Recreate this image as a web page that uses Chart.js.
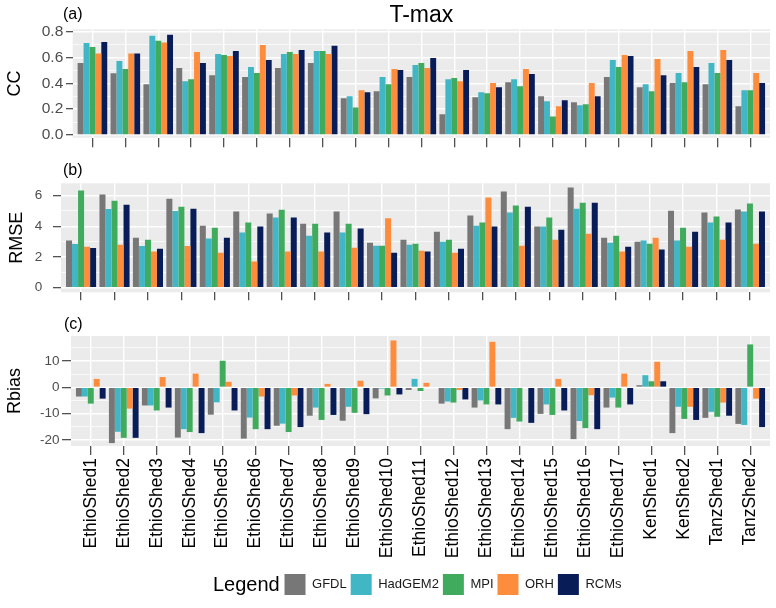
<!DOCTYPE html>
<html><head><meta charset="utf-8">
<script src="https://cdn.jsdelivr.net/npm/chart.js@4.4.1/dist/chart.umd.min.js"></script>
<style>
html,body{margin:0;padding:0;background:#fff;}
#wrap{position:relative;width:776px;height:608px;overflow:hidden;}
#wrap canvas{position:absolute;left:0;top:0;}
</style></head><body>
<div id="wrap">
<canvas id="cA" width="776" height="608"></canvas>
<canvas id="cB" width="776" height="608"></canvas>
<canvas id="cC" width="776" height="608"></canvas>
</div>
<script>
// ---------- DATA ----------
const categories = ['EthioShed1','EthioShed2','EthioShed3','EthioShed4','EthioShed5','EthioShed6','EthioShed7','EthioShed8','EthioShed9','EthioShed10','EthioShed11','EthioShed12','EthioShed13','EthioShed14','EthioShed15','EthioShed16','EthioShed17','KenShed1','KenShed2','TanzShed1','TanzShed2'];
const seriesNames = ['GFDL','HadGEM2','MPI','ORH','RCMs'];

const ccGFDL = [0.56,0.48,0.395,0.52,0.465,0.45,0.52,0.56,0.285,0.34,0.45,0.16,0.293,0.41,0.30,0.254,0.45,0.371,0.403,0.395,0.222];
const ccHadGEM2 = [0.716,0.575,0.771,0.418,0.63,0.528,0.63,0.654,0.30,0.45,0.544,0.434,0.332,0.434,0.261,0.23,0.583,0.395,0.481,0.56,0.348];
const ccMPI = [0.685,0.512,0.732,0.434,0.622,0.481,0.646,0.654,0.214,0.395,0.56,0.442,0.324,0.379,0.144,0.238,0.528,0.34,0.41,0.481,0.348];
const ccORH = [0.633,0.633,0.719,0.646,0.614,0.70,0.63,0.63,0.348,0.512,0.52,0.418,0.403,0.512,0.222,0.403,0.622,0.591,0.654,0.661,0.481];
const ccRCMs = [0.724,0.633,0.779,0.56,0.654,0.583,0.661,0.693,0.332,0.505,0.599,0.505,0.371,0.473,0.269,0.30,0.614,0.465,0.528,0.583,0.403];

const rmseGFDL = [3.07,6.07,3.26,5.80,4.04,4.96,4.83,4.17,4.96,2.93,3.13,3.65,4.70,6.26,3.98,6.52,3.26,3.0,5.02,4.89,5.09];
const rmseHadGEM2 = [2.85,5.13,2.72,5.0,3.2,3.59,4.57,3.39,3.59,2.74,2.80,3.0,4.04,4.89,3.98,5.15,2.93,3.07,3.07,4.24,4.96];
const rmseMPI = [6.33,5.67,3.13,5.28,3.91,4.24,5.07,4.17,4.17,2.74,2.87,3.13,4.24,5.35,4.57,5.54,3.39,2.87,3.91,4.63,5.48];
const rmseORH = [2.67,2.80,2.35,2.72,2.28,1.70,2.35,2.35,2.61,4.52,2.41,2.28,5.87,2.74,3.13,3.52,2.35,3.26,2.67,3.13,2.87];
const rmseRCMs = [2.59,5.41,2.54,5.15,3.26,3.98,4.57,3.59,3.85,2.28,2.35,2.54,3.98,5.28,3.78,5.54,2.67,2.48,3.65,4.24,4.96];

const rbiasGFDL = [-3.5,-21.2,-6.9,-19.1,-10.4,-19.5,-14.6,-10.8,-12.7,-4.2,-1.0,-6.2,-7.7,-15.9,-10.1,-19.7,-7.7,0.8,-17.4,-11.6,-13.9];
const rbiasHadGEM2 = [-3.5,-16.9,-6.9,-15.9,-5.7,-11.5,-13.8,-7.7,-7.4,-0.5,3.2,-5.4,-5.0,-11.6,-6.5,-12.8,-3.9,4.6,-7.4,-9.3,-14.3];
const rbiasMPI = [-6.2,-19.2,-8.8,-17.0,10.1,-15.9,-17.0,-12.4,-9.7,-3.1,-1.4,-5.8,-6.5,-13.0,-10.5,-15.5,-7.7,2.3,-12.0,-11.2,16.3];
const rbiasORH = [3.2,-8.1,3.9,5.2,2.1,-3.5,-3.1,1.3,2.5,17.8,1.7,-1.0,17.3,0,3.2,-3.0,5.2,9.7,-7.4,-5.8,-4.3];
const rbiasRCMs = [-4.3,-19.2,-7.7,-17.4,-8.8,-15.9,-15.1,-10.5,-10.2,-2.7,0,-4.6,-6.5,-13.5,-8.8,-15.9,-6.5,2.3,-12.4,-10.8,-15.1];

const ccTicks = [0,0.2,0.4,0.6,0.8];
const ccTickLabels = ['0.0','0.2','0.4','0.6','0.8'];
const ccMinorTicks = [0.1,0.3,0.5,0.7];
const rmseTicks = [0,2,4,6];
const rmseTickLabels = ['0','2','4','6'];
const rmseMinorTicks = [1,3,5];
const rbiasTicks = [-20,-10,0,10];
const rbiasTickLabels = ['-20','-10','0','10'];
const rbiasMinorTicks = [-15,-5,5,15];

// ---------- STYLE ----------
const COLORS = ['#777777','#41B6C4','#41AB5D','#FD8D3C','#081D58'];
const FONT = '"Liberation Sans", Arial, sans-serif';
Chart.defaults.font.family = FONT;
Chart.defaults.animation = false;
const xPos = categories.map((c, i) => i + 1);

const panelBg = {
  id: 'panelBg',
  beforeDraw(chart) {
    const a = chart.chartArea, c = chart.ctx;
    c.save(); c.fillStyle = '#EBEBEB';
    c.fillRect(a.left, a.top, a.right - a.left, a.bottom - a.top);
    c.restore();
  }
};
const annot = {
  id: 'annot',
  afterDraw(chart, args, opts) {
    const c = chart.ctx;
    (opts.items || []).forEach(it => {
      c.save();
      c.font = it.size + 'px ' + FONT;
      c.fillStyle = it.color || '#000000';
      c.textAlign = 'left'; c.textBaseline = 'middle';
      c.fillText(it.text, it.x, it.y);
      c.restore();
    });
  }
};
const legendShift = {
  id: 'legendShift',
  afterLayout(chart, args, opts) {
    if (chart.legend && opts.dx) { chart.legend.left += opts.dx; chart.legend.right += opts.dx; }
  }
};

function near(list, v) { return list.findIndex(t => Math.abs(t - v) < 1e-9); }

function makePanel(id, p) {
  const allTicks = p.ticks.concat(p.minor).sort((a, b) => a - b);
  return new Chart(document.getElementById(id), {
    type: 'bar',
    data: {
      labels: xPos,
      datasets: p.values.map((v, i) => ({
        label: seriesNames[i], data: v, backgroundColor: COLORS[i],
        borderWidth: 0, categoryPercentage: 0.9, barPercentage: 1.0
      }))
    },
    options: {
      responsive: false, animation: false, events: [],
      layout: { padding: { left: 0, right: 6, top: p.padTop, bottom: p.padBottom } },
      plugins: {
        tooltip: { enabled: false },
        title: p.title ? { display: true, text: p.title, fullSize: false, color: '#000000',
                 font: { size: 23, weight: 'normal' }, padding: { top: 0, bottom: 0 } } : { display: false },
        legend: p.legend ? {
          display: true, position: 'bottom', align: 'center',
          labels: { boxWidth: 21, boxHeight: 21, padding: 4, color: '#1A1A1A', font: { size: 13 } }
        } : { display: false },
        annot: { items: p.annot },
        legendShift: { dx: p.legendDx || 0 }
      },
      scales: {
        x: {
          type: 'linear', min: 0.4, max: 21.6, offset: false,
          grid: { offset: false, color: '#FFFFFF', lineWidth: 1.4, tickColor: '#333333',
                  tickLength: p.xTickLen, tickWidth: 1.1, drawTicks: true },
          border: { display: false },
          ticks: { display: p.showXLabels, autoSkip: false, minRotation: 90, maxRotation: 90,
                   padding: 3, color: '#000000', font: { size: 17.5 },
                   callback: (v) => categories[Math.round(v) - 1] },
          afterBuildTicks: (s) => { s.ticks = xPos.map(v => ({ value: v })); },
          afterFit: (s) => { s.height = p.xAxisHeight; }
        },
        y: {
          type: 'linear', min: p.yMin, max: p.yMax,
          grid: {
            color: '#FFFFFF',
            lineWidth: (ctx) => (ctx.tick && near(p.ticks, ctx.tick.value) < 0) ? 0.7 : 1.4,
            tickColor: (ctx) => (ctx.tick && near(p.ticks, ctx.tick.value) < 0) ? 'rgba(0,0,0,0)' : '#333333',
            tickLength: p.yTickLen, tickWidth: 1.1, drawTicks: true
          },
          border: { display: false },
          ticks: { autoSkip: false, padding: p.yTickPad, color: '#4D4D4D', font: { size: p.yTickFont },
                   callback: (v) => { const k = near(p.ticks, v); return k >= 0 ? p.tickLabels[k] : ''; } },
          title: { display: true, text: p.yTitle, color: '#000000', font: { size: 18 },
                   padding: { top: p.titlePadTop, bottom: 0 } },
          afterBuildTicks: (s) => { s.ticks = allTicks.map(v => ({ value: v })); },
          afterFit: (s) => { s.width = p.chartLeft; }
        }
      }
    },
    plugins: [panelBg, annot, legendShift]
  });
}

makePanel('cA', {
  values: [ccGFDL, ccHadGEM2, ccMPI, ccORH, ccRCMs],
  ticks: ccTicks, tickLabels: ccTickLabels, minor: ccMinorTicks,
  yMin: -0.022, yMax: 0.822, yTitle: 'CC', title: 'T-max',
  chartLeft: 72.7, padTop: 1.7, padBottom: 450.3, xAxisHeight: 20, xTickLen: 9.5,
  yTickLen: 6.7, yTickPad: 2.7, yTickFont: 15.5, titlePadTop: 4, showXLabels: false,
  annot: [{ text: '(a)', x: 63, y: 14.5, size: 16 }]
});
makePanel('cB', {
  values: [rmseGFDL, rmseHadGEM2, rmseMPI, rmseORH, rmseRCMs],
  ticks: rmseTicks, tickLabels: rmseTickLabels, minor: rmseMinorTicks,
  yMin: -0.3, yMax: 6.8, yTitle: 'RMSE',
  chartLeft: 61, padTop: 183.3, padBottom: 295.7, xAxisHeight: 20, xTickLen: 8,
  yTickLen: 8, yTickPad: 10.7, yTickFont: 13.5, titlePadTop: 6, showXLabels: false,
  annot: [{ text: '(b)', x: 63, y: 171, size: 16 }]
});
makePanel('cC', {
  values: [rbiasGFDL, rbiasHadGEM2, rbiasMPI, rbiasORH, rbiasRCMs],
  ticks: rbiasTicks, tickLabels: rbiasTickLabels, minor: rbiasMinorTicks,
  yMin: -22.3, yMax: 19.5, yTitle: 'Rbias', legend: true, legendDx: 68,
  chartLeft: 71, padTop: 336, padBottom: 3, xAxisHeight: 124, xTickLen: 9,
  yTickLen: 9, yTickPad: 2.5, yTickFont: 13.5, titlePadTop: 4, showXLabels: true,
  annot: [{ text: '(c)', x: 64, y: 325, size: 16 }, { text: 'Legend', x: 213, y: 585, size: 20 }]
});
</script>
</body></html>
